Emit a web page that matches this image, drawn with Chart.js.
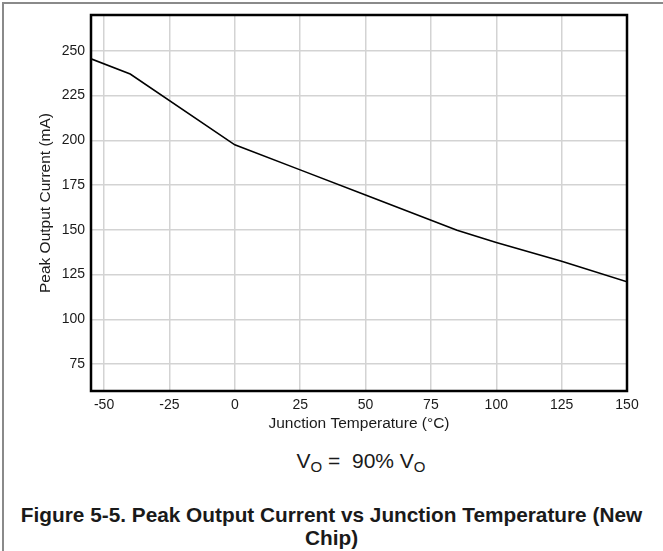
<!DOCTYPE html>
<html>
<head>
<meta charset="utf-8">
<script src="https://cdn.jsdelivr.net/npm/chart.js@4.4.1/dist/chart.umd.min.js"></script>
<style>
  body { margin: 0; background: #fff; width: 663px; height: 551px; overflow: hidden; position: relative; font-family: "Liberation Sans", Arial, sans-serif; color: #1a1a1a; }
  #frame { position: absolute; left: 2px; top: 2px; width: 700px; height: 600px; border: 2px solid #8a8a8a; box-sizing: border-box; }
  #wrap { position: absolute; left: 0; top: 0; width: 663px; height: 433px; }
  #cond { position: absolute; left: 161px; width: 400px; top: 448px; text-align: center; font-size: 21px; line-height: 25px; }
  #cond sub { font-size: 15px; vertical-align: -4px; line-height: 0; }
  #caption { position: absolute; left: 0; width: 663px; top: 503px; text-align: center; font-size: 20.8px; font-weight: bold; line-height: 23px; }
</style>
</head>
<body>
<div id="frame"></div>
<div id="wrap"><canvas id="chart"></canvas></div>
<div id="cond">V<sub>O</sub> =&nbsp; 90% V<sub>O</sub></div>
<div id="caption">Figure 5-5. Peak Output Current vs Junction Temperature (New<br>Chip)</div>
<script>
// junction temperature (°C) and peak output current (mA)
const tempC = [-55, -40, 0, 25, 50, 85, 100, 125, 150];
const peakmA = [245.5, 237, 197.5, 183.5, 169.5, 149.8, 143, 132.5, 121];
const xTicks = [-50, -25, 0, 25, 50, 75, 100, 125, 150];
const yTicks = [75, 100, 125, 150, 175, 200, 225, 250];

const tickFont = { family: "'Liberation Sans', Arial, sans-serif", size: 14 };
const titleFont = { family: "'Liberation Sans', Arial, sans-serif", size: 15.5 };

// draws the black box round the plot
const boxPlugin = {
  id: "box",
  afterDraw(chart) {
    const a = chart.chartArea, ctx = chart.ctx;
    ctx.save();
    ctx.strokeStyle = "#000";
    ctx.lineWidth = 2.5;
    ctx.strokeRect(a.left, a.top, a.right - a.left, a.bottom - a.top);
    ctx.restore();
  }
};

new Chart(document.getElementById("chart"), {
  type: "line",
  data: {
    datasets: [{
      data: tempC.map((t, i) => ({ x: t, y: peakmA[i] })),
      borderColor: "#000",
      borderWidth: 1.6,
      pointRadius: 0,
      tension: 0,
      fill: false
    }]
  },
  options: {
    responsive: true,
    maintainAspectRatio: false,
    animation: false,
    layout: { padding: { left: 32, right: 36, top: 15, bottom: 0 } },
    plugins: { legend: { display: false }, tooltip: { enabled: false } },
    scales: {
      x: {
        type: "linear",
        min: -55,
        max: 150,
        afterBuildTicks: s => { s.ticks = xTicks.map(v => ({ value: v })); },
        afterFit: s => { s.height = 42; },
        grid: { color: "#d3d3d3", lineWidth: 1.5, drawTicks: false },
        border: { display: false },
        ticks: { font: tickFont, color: "#1a1a1a", padding: 6, maxRotation: 0 },
        title: { display: true, text: "Junction Temperature (°C)", font: titleFont, color: "#1a1a1a", padding: { top: 0, bottom: 0 } }
      },
      y: {
        min: 60,
        max: 270,
        afterBuildTicks: s => { s.ticks = yTicks.map(v => ({ value: v })); },
        afterFit: s => { s.width = 59; },
        grid: { color: "#d3d3d3", lineWidth: 1.5, drawTicks: false },
        border: { display: false },
        ticks: { font: tickFont, color: "#1a1a1a", padding: 6 },
        title: { display: true, text: "Peak Output Current (mA)", font: titleFont, color: "#1a1a1a", padding: { top: 4, bottom: 4 } }
      }
    }
  },
  plugins: [boxPlugin]
});
</script>
</body>
</html>
